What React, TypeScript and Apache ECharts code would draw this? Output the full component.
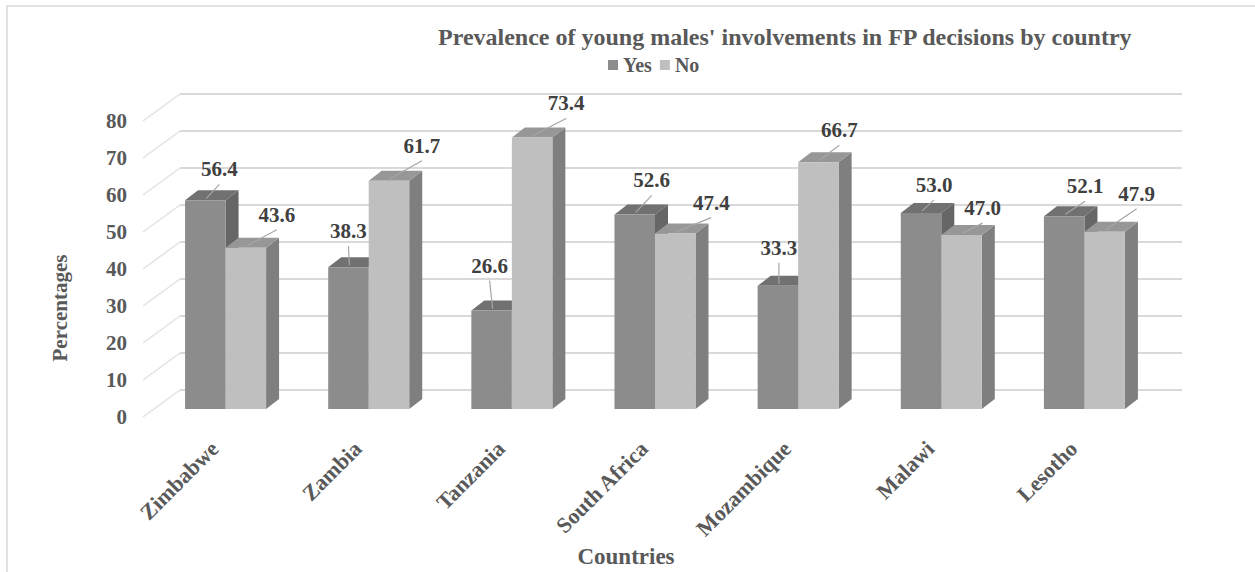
import React, { useEffect, useRef } from "react";
import * as echarts from "echarts";

const countries = ["Zimbabwe", "Zambia", "Tanzania", "South Africa", "Mozambique", "Malawi", "Lesotho"];
const yesValues = [56.4, 38.3, 26.6, 52.6, 33.3, 53.0, 52.1];
const noValues = [43.6, 61.7, 73.4, 47.4, 66.7, 47.0, 47.9];
const yTicks = [0, 10, 20, 30, 40, 50, 60, 70, 80];
const seriesNames = ["Yes", "No"];

// label placement offsets (relative to bar front-top centre), style only
const yesLabelOffsets = [[14, -31], [0, -36], [-2, -45], [17, -34], [1, -38], [13, -28], [21, -30]];
const noLabelOffsets = [[31, -33], [33, -35], [34, -34], [36, -31], [21, -32], [21, -27], [32, -38]];

const FONT = '"Liberation Serif", "Times New Roman", serif';
const AXIS_COLOR = "#595959";
const DEPTH_X = 37, DEPTH_Y = 27; // floor depth
const FRONT_DX = 11, FRONT_DY = -8; // bar front face offset from front plane
const BAR_DX = 13, BAR_DY = 10; // bar depth

const yesColors = { front: "#8c8c8c", top: "#717171", side: "#666666" };
const noColors = { front: "#bfbfbf", top: "#979797", side: "#7f7f7f" };

function barRenderer(isYes: boolean, colors: any, offsets: number[][]) {
  return (params: any, api: any) => {
    const i = api.value(0);
    const v = api.value(1);
    const base = api.coord([i, 0]);
    const top = api.coord([i, v]);
    const band = api.size([1, 0])[0];
    const barW = band * 0.283;
    const cx = base[0] + FRONT_DX;
    const x0 = isYes ? cx - barW : cx;
    const x1 = x0 + barW;
    const yb = base[1] + FRONT_DY;
    const yt = top[1] + FRONT_DY;
    const fc = (x0 + x1) / 2;
    const off = offsets[i];
    const lx = fc + off[0];
    const ly = yt + off[1];
    return {
      type: "group",
      children: [
        {
          type: "polygon",
          shape: { points: [[x1, yt], [x1 + BAR_DX, yt - BAR_DY], [x1 + BAR_DX, yb - BAR_DY], [x1, yb]] },
          style: { fill: colors.side },
        },
        {
          type: "polygon",
          shape: { points: [[x0, yt], [x1, yt], [x1 + BAR_DX, yt - BAR_DY], [x0 + BAR_DX, yt - BAR_DY]] },
          style: { fill: colors.top },
        },
        {
          type: "rect",
          shape: { x: x0, y: yt, width: barW, height: yb - yt },
          style: { fill: colors.front },
        },
        {
          type: "line",
          shape: { x1: lx, y1: ly + 15, x2: fc + 1, y2: yt - 2 },
          style: { stroke: "#a6a6a6", lineWidth: 1.2 },
        },
        {
          type: "text",
          style: {
            text: v.toFixed(1),
            x: lx,
            y: ly,
            align: "center",
            verticalAlign: "middle",
            fontSize: 21,
            fontWeight: "bold",
            fontFamily: FONT,
            fill: "#404040",
          },
        },
      ],
    };
  };
}

function gridRenderer(params: any, api: any) {
  const v = api.value(1);
  const cs = params.coordSys;
  const y = api.coord([0, v])[1];
  return {
    type: "group",
    children: [
      {
        type: "line",
        shape: { x1: cs.x, y1: y, x2: cs.x + DEPTH_X, y2: y - DEPTH_Y },
        style: { stroke: "#e2e2e2", lineWidth: 1.5 },
      },
      {
        type: "line",
        shape: { x1: cs.x + DEPTH_X, y1: y - DEPTH_Y, x2: cs.x + cs.width + DEPTH_X, y2: y - DEPTH_Y },
        style: { stroke: "#d9d9d9", lineWidth: 2 },
      },
    ],
  };
}

export default function App() {
  const ref = useRef<HTMLDivElement>(null);
  useEffect(() => {
    const chart = echarts.init(ref.current!, null, { renderer: "svg" });
    chart.setOption({
      animation: false,
      backgroundColor: "#ffffff",
      title: {
        text: "Prevalence of young males' involvements in FP decisions by country",
        left: 433,
        top: 20,
        textStyle: { fontFamily: FONT, fontSize: 24, fontWeight: "bold", color: AXIS_COLOR },
      },
      legend: {
        data: [
          { name: seriesNames[0], icon: "rect", itemStyle: { color: yesColors.front } },
          { name: seriesNames[1], icon: "rect", itemStyle: { color: noColors.front } },
        ],
        left: 603,
        top: 50,
        itemWidth: 10,
        itemHeight: 10,
        itemGap: 8,
        textStyle: { fontFamily: FONT, fontSize: 20, fontWeight: "bold", color: AXIS_COLOR },
      },
      grid: { left: 143, top: 121, width: 1002, height: 296 },
      xAxis: {
        type: "category",
        data: countries,
        axisLine: { show: false },
        axisTick: { show: false },
        axisLabel: {
          rotate: 45,
          interval: 0,
          margin: 28,
          fontFamily: FONT,
          fontSize: 22,
          fontWeight: "bold",
          color: AXIS_COLOR,
        },
      },
      yAxis: {
        type: "value",
        min: 0,
        max: 80,
        interval: 10,
        axisLine: { show: false },
        axisTick: { show: false },
        splitLine: { show: false },
        axisLabel: { margin: 16, fontFamily: FONT, fontSize: 21, fontWeight: "bold", color: AXIS_COLOR },
      },
      graphic: [
        {
          type: "rect",
          shape: { x: 7, y: 6, width: 1400, height: 800 },
          style: { fill: "none", stroke: "#d9d9d9", lineWidth: 1.5 },
          silent: true,
        },
        {
          type: "text",
          x: 60,
          y: 308,
          rotation: Math.PI / 2,
          style: {
            text: "Percentages",
            align: "center",
            verticalAlign: "middle",
            fontFamily: FONT,
            fontSize: 21,
            fontWeight: "bold",
            fill: AXIS_COLOR,
          },
        },
        {
          type: "text",
          x: 626,
          y: 556,
          style: {
            text: "Countries",
            align: "center",
            verticalAlign: "middle",
            fontFamily: FONT,
            fontSize: 23,
            fontWeight: "bold",
            fill: AXIS_COLOR,
          },
        },
      ],
      series: [
        {
          type: "custom",
          name: "grid",
          renderItem: gridRenderer,
          data: yTicks.map((t) => [0, t]),
          encode: { x: 0, y: 1 },
          z: 1,
          silent: true,
        },
        {
          type: "custom",
          name: seriesNames[0],
          renderItem: barRenderer(true, yesColors, yesLabelOffsets),
          data: yesValues.map((v, i) => [i, v]),
          encode: { x: 0, y: 1 },
          itemStyle: { color: yesColors.front },
          z: 2,
        },
        {
          type: "custom",
          name: seriesNames[1],
          renderItem: barRenderer(false, noColors, noLabelOffsets),
          data: noValues.map((v, i) => [i, v]),
          encode: { x: 0, y: 1 },
          itemStyle: { color: noColors.front },
          z: 3,
        },
      ],
    });
    return () => chart.dispose();
  }, []);
  return <div ref={ref} style={{ position: "absolute", left: 0, top: 0, width: 1255, height: 572 }} />;
}
